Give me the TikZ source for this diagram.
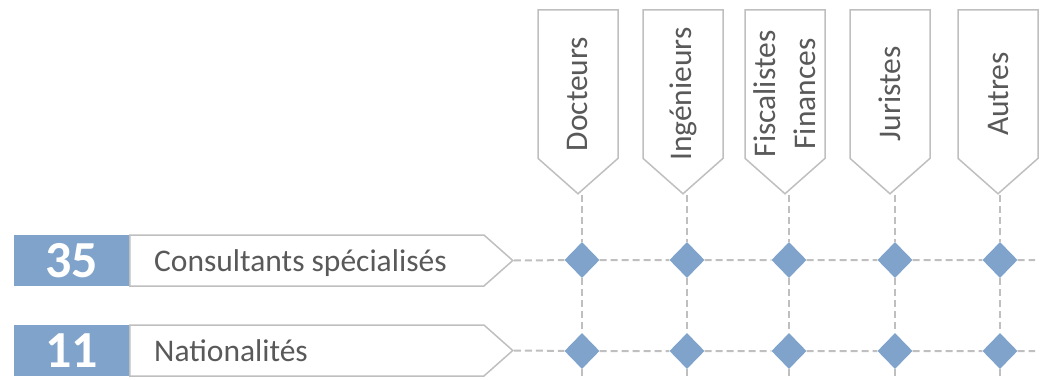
\documentclass[tikz,border=0pt]{standalone}
\usepackage{fontspec}
\setmainfont{Carlito}
\usetikzlibrary{shapes.symbols,shapes.geometric}
\definecolor{chipblue}{RGB}{127,163,202}
\definecolor{rimgray}{RGB}{191,191,191}
\definecolor{inkgray}{RGB}{89,89,89}

\begin{document}
\begin{tikzpicture}[x=1pt,y=-1pt,
    tab/.style={signal,signal to=west,signal from=nowhere,signal pointer angle=97,draw=rimgray,line width=1.5pt,fill=white,rotate=90,anchor=east,minimum width=184pt,minimum height=80pt,inner sep=0pt},
    tabtext/.style={rotate=90,inner sep=0pt,text=inkgray,font=\fontsize{31.5}{40}\selectfont,align=center},
    rowtag/.style={signal,signal to=east,signal from=nowhere,signal pointer angle=83,draw=rimgray,line width=1.5pt,anchor=west,minimum width=383pt,minimum height=51pt,inner sep=0pt},
    count/.style={fill=chipblue,minimum width=115pt,minimum height=51pt,inner sep=0pt,text=white,font=\fontsize{52}{54}\selectfont\bfseries},
    rowtext/.style={anchor=base west,inner sep=0pt,text=inkgray,font=\fontsize{31.5}{36}\selectfont},
    gem/.style={diamond,fill=chipblue,minimum width=35pt,minimum height=36pt,inner sep=0pt},
    guide/.style={draw=rimgray,line width=2pt,dash pattern=on 7pt off 4pt}]
                \useasboundingbox (0,0) rectangle (1047,380);
                % colonnes
                \node[tab] (t1) at (578,9) {};
                \node[tab] (t2) at (683,9) {};
                \node[tab] (t3) at (785,9) {};
                \node[tab] (t4) at (890,9) {};
                \node[tab] (t5) at (998,9) {};
                \node[tabtext] (c1) at (578,94) {Docteurs};
                \node[tabtext] (c2) at (683,94) {Ingénieurs};
                \node[tabtext] (c3) at (785,94) {Fiscalistes\\Finances};
                \node[tabtext] (c4) at (890,94) {Juristes};
                \node[tabtext] (c5) at (998,94) {Autres};
                % lignes
                \node[rowtag] (p1) at (129,260.5) {};
                \node[rowtag] (p2) at (129,350.5) {};
                \node[count] (n1) at (71.5,260.5) {35};
                \node[count] (n2) at (71.5,350.5) {11};
                \node[rowtext] (l1) at (154,271) {Consultants spécialisés};
                \node[rowtext] (l2) at (154,361) {Nationalités};
                % croisements
                \node[gem] (g11) at (582,260) {};
                \node[gem] (g12) at (687,260) {};
                \node[gem] (g13) at (789,260) {};
                \node[gem] (g14) at (895,260) {};
                \node[gem] (g15) at (1000,260) {};
                \node[gem] (g21) at (582,351) {};
                \node[gem] (g22) at (687,351) {};
                \node[gem] (g23) at (789,351) {};
                \node[gem] (g24) at (895,351) {};
                \node[gem] (g25) at (1000,351) {};
                \coordinate (e1) at (1035,260);
                \coordinate (e2) at (1035,351);
                \coordinate (f1) at (582,380);
                \coordinate (f2) at (687,380);
                \coordinate (f3) at (789,380);
                \coordinate (f4) at (895,380);
                \coordinate (f5) at (1000,380);
                \draw[guide] (p1.east) -- (g11) -- (g12) -- (g13) -- (g14) -- (g15) -- (e1);
                \draw[guide] (p2.east) -- (g21) -- (g22) -- (g23) -- (g24) -- (g25) -- (e2);
                \draw[guide] (g11 |- t1.west) -- (g11) -- (g21) -- (f1);
                \draw[guide] (g12 |- t2.west) -- (g12) -- (g22) -- (f2);
                \draw[guide] (g13 |- t3.west) -- (g13) -- (g23) -- (f3);
                \draw[guide] (g14 |- t4.west) -- (g14) -- (g24) -- (f4);
                \draw[guide] (g15 |- t5.west) -- (g15) -- (g25) -- (f5);
            \end{tikzpicture}
\end{document}
